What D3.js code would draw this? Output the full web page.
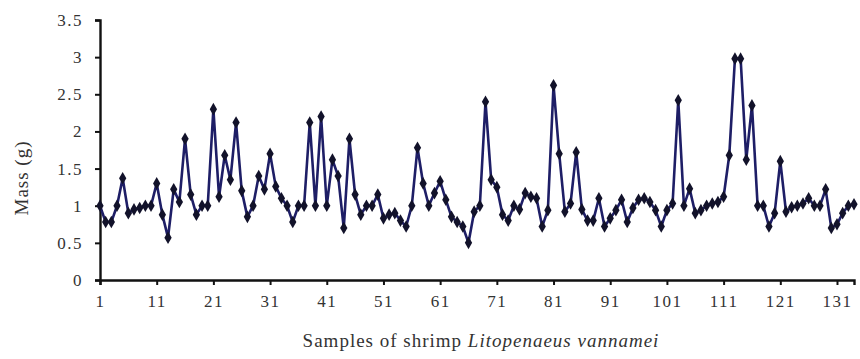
<!DOCTYPE html>
<html>
<head>
<meta charset="utf-8">
<script src="https://cdn.jsdelivr.net/npm/d3@7"></script>
<style>
  body { margin: 0; background: #fff; }
  svg { display: block; }
  .tick text { font-family: "Liberation Serif", "DejaVu Serif", serif; }
</style>
</head>
<body>
<div id="chart"></div>
<script>
// mass of each shrimp sample
const mass = [
  1.0, 0.78, 0.78, 1.0, 1.37, 0.9, 0.95, 0.97, 1.0, 1.0,
  1.3, 0.88, 0.57, 1.22, 1.05, 1.9, 1.15, 0.88, 1.0, 1.0,
  2.3, 1.12, 1.68, 1.35, 2.12, 1.2, 0.85, 1.0, 1.4, 1.22,
  1.7, 1.26, 1.1, 1.0, 0.78, 1.0, 1.0, 2.12, 1.0, 2.2,
  1.0, 1.62, 1.4, 0.7, 1.9, 1.15, 0.88, 1.0, 1.0, 1.15,
  0.83, 0.88, 0.9, 0.8, 0.72, 1.0, 1.78, 1.3, 1.0, 1.17,
  1.33, 1.08, 0.85, 0.78, 0.72, 0.5, 0.92, 1.0, 2.4, 1.35,
  1.25, 0.88, 0.8, 1.0, 0.95, 1.17, 1.12, 1.1, 0.72, 0.94,
  2.62, 1.7, 0.92, 1.03, 1.72, 0.95, 0.8, 0.8, 1.1, 0.72,
  0.83, 0.94, 1.08, 0.78, 0.97, 1.08, 1.1, 1.05, 0.94, 0.72,
  0.94, 1.03, 2.42, 1.0, 1.23, 0.9, 0.94, 1.0, 1.03, 1.05,
  1.12, 1.68, 2.98, 2.98, 1.62, 2.35, 1.0, 1.0, 0.72, 0.9,
  1.6, 0.92, 0.98, 1.0, 1.03, 1.1, 1.0, 1.0, 1.22, 0.7,
  0.75, 0.9, 1.0, 1.02
];
const samples = mass.map((d, i) => i + 1);
const xTicks = d3.range(1, 132, 10);   // 1, 11, ... 131
const yTicks = d3.range(0, 3.51, 0.5);

const width = 860, height = 359;
const margin = {top: 20, right: 6, bottom: 79, left: 100};

const svg = d3.select("#chart").append("svg")
  .attr("width", width)
  .attr("height", height);

const x = d3.scaleLinear()
  .domain([1, samples.length])
  .range([margin.left, width - margin.right]);

const y = d3.scaleLinear()
  .domain([0, 3.5])
  .range([height - margin.bottom, margin.top]);

const fmt = (d) => d === 0 ? "0" : (Number.isInteger(d) ? String(d) : d.toFixed(1));

const yAxis = svg.append("g")
  .attr("transform", `translate(${margin.left},0)`)
  .call(d3.axisLeft(y).tickValues(yTicks).tickFormat(fmt).tickSize(5).tickPadding(12));

const xAxis = svg.append("g")
  .attr("transform", `translate(0,${height - margin.bottom})`)
  .call(d3.axisBottom(x).tickValues(xTicks).tickFormat(d3.format("d")).tickSize(5).tickPadding(10));

[xAxis, yAxis].forEach((g) => {
  g.select(".domain").attr("stroke", "#111").attr("stroke-width", 2.4);
  g.selectAll(".tick line").attr("stroke", "#111").attr("stroke-width", 2);
  g.selectAll(".tick text")
    .attr("fill", "#333")
    .style("font-size", "17px")
    .style("letter-spacing", "1.5px");
});

// series
const line = d3.line()
  .x((d, i) => x(samples[i]))
  .y((d) => y(d));

svg.append("path")
  .datum(mass)
  .attr("fill", "none")
  .attr("stroke", "#1e1e66")
  .attr("stroke-width", 2.6)
  .attr("stroke-linejoin", "round")
  .attr("d", line);

svg.append("g")
  .selectAll("path")
  .data(mass)
  .enter()
  .append("path")
  .attr("d", d3.symbol().type(d3.symbolDiamond).size(46))
  .attr("transform", (d, i) => `translate(${x(samples[i])},${y(d)})`)
  .attr("fill", "#12122a");

// axis titles
svg.append("text")
  .attr("x", 481)
  .attr("y", 347)
  .attr("text-anchor", "middle")
  .attr("fill", "#333")
  .style("font-family", "Liberation Serif, serif")
  .style("font-size", "19px")
  .style("letter-spacing", "1px")
  .call((t) => {
    t.append("tspan").text("Samples of shrimp ");
    t.append("tspan").style("font-style", "italic").text("Litopenaeus vannamei");
  });

svg.append("text")
  .attr("transform", "translate(28,178) rotate(-90)")
  .attr("text-anchor", "middle")
  .attr("fill", "#333")
  .style("font-family", "Liberation Serif, serif")
  .style("font-size", "19px")
  .style("letter-spacing", "1px")
  .text("Mass (g)");
</script>
</body>
</html>
